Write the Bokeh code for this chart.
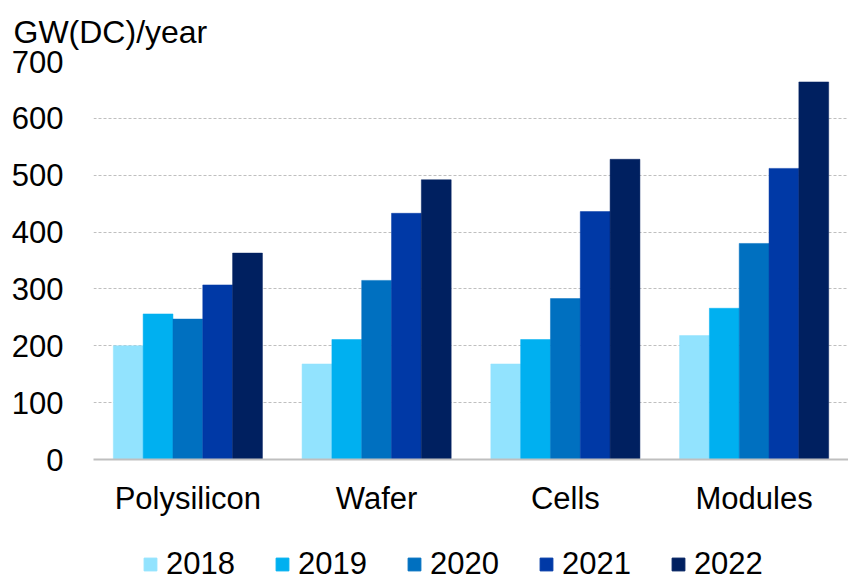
from bokeh.plotting import figure
from bokeh.models import ColumnDataSource, FactorRange, Range1d, Legend, Title, FixedTicker
from bokeh.layouts import column
from bokeh.transform import dodge
from bokeh.embed import file_html
from bokeh.resources import INLINE

# Manufacturing capacity by stage of the PV supply chain
categories = ["Polysilicon", "Wafer", "Cells", "Modules"]
years = ["2018", "2019", "2020", "2021", "2022"]
cap_2018 = [200, 168, 168, 218]
cap_2019 = [256, 211, 211, 266]
cap_2020 = [247, 315, 283, 380]
cap_2021 = [307, 433, 436, 512]
cap_2022 = [363, 492, 528, 664]
y_ticks = [0, 100, 200, 300, 400, 500, 600, 700]

colors = ["#92E3FE", "#00B0F0", "#0070C0", "#0039A6", "#002060"]
FONT = "Liberation Sans"
FS = "31px"

source = ColumnDataSource(data=dict(
    cat=categories,
    y2018=cap_2018, y2019=cap_2019, y2020=cap_2020, y2021=cap_2021, y2022=cap_2022,
))

p = figure(
    width=848, height=525,
    x_range=FactorRange(*categories),
    y_range=Range1d(0, 700),
    output_backend="svg", toolbar_location=None,
    min_border_left=93, min_border_right=0,
    min_border_top=61, min_border_bottom=66,
    background_fill_color="white", border_fill_color="white",
    outline_line_color=None,
)

bar_w = 0.158
offsets = [-2 * bar_w, -bar_w, 0, bar_w, 2 * bar_w]
for yr, off, col in zip(years, offsets, colors):
    p.vbar(x=dodge("cat", off, range=p.x_range), top="y" + yr, width=bar_w,
           source=source, fill_color=col, line_color=col, line_width=0.5)

p.add_layout(Title(text="GW(DC)/year", text_font=FONT, text_font_size="32px",
                   text_font_style="normal", text_color="#000000",
                   align="left", vertical_align="top", offset=-80, standoff=20), "above")

# grid
p.xgrid.grid_line_color = None
p.ygrid.grid_line_color = "#BFBFBF"
p.ygrid.grid_line_dash = "3 2"
p.ygrid.grid_line_width = 1
p.yaxis.ticker = FixedTicker(ticks=y_ticks)

# y axis
p.yaxis.axis_line_color = None
p.yaxis.major_tick_line_color = None
p.yaxis.minor_tick_line_color = None
p.yaxis.major_tick_out = 0
p.yaxis.major_label_standoff = 30
p.yaxis.major_label_text_font = FONT
p.yaxis.major_label_text_font_size = FS
p.yaxis.major_label_text_color = "#000000"

# x axis
p.xaxis.axis_line_color = "#BFBFBF"
p.xaxis.axis_line_width = 2
p.xaxis.major_tick_line_color = None
p.xaxis.major_tick_out = 0
p.xaxis.major_label_standoff = 21
p.xaxis.major_label_text_font = FONT
p.xaxis.major_label_text_font_size = FS
p.xaxis.major_label_text_color = "#000000"

# legend strip underneath the chart (its frame lines up with the chart's frame)
lg = figure(
    width=848, height=55, x_range=Range1d(0, 1), y_range=Range1d(0, 1),
    x_axis_type=None, y_axis_type=None,
    output_backend="svg", toolbar_location=None,
    min_border_left=93, min_border_right=0, min_border_top=0, min_border_bottom=0,
    outline_line_color=None, background_fill_color="white", border_fill_color="white",
)
lg.xgrid.visible = False
lg.ygrid.visible = False
items = []
for yr, col in zip(years, colors):
    # swatch renderers sit outside the visible range; only their legend entries show
    r = lg.vbar(x=[-5], top=[0], width=0.1, fill_color=col, line_color=col)
    items.append((yr, [r]))

legend = Legend(items=items, orientation="horizontal", location=(49, -2),
                label_text_font=FONT, label_text_font_size=FS,
                label_text_color="#000000", label_text_line_height=0.8,
                glyph_width=16, glyph_height=16, label_height=20, label_standoff=8,
                spacing=39, padding=0, margin=0,
                background_fill_alpha=0, border_line_color=None)
lg.add_layout(legend, "center")

layout = column(p, lg, spacing=0)
open("out.html", "w").write(file_html(layout, INLINE))
